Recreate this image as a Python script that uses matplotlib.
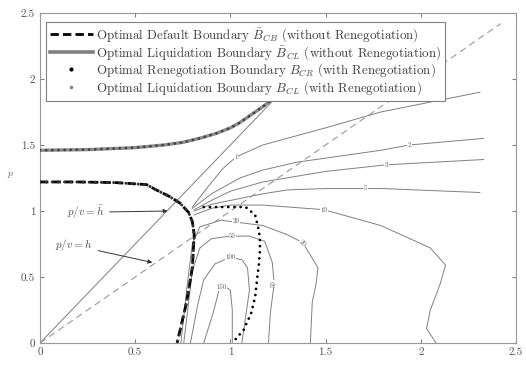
import matplotlib.pyplot as plt
from matplotlib.lines import Line2D

plt.rcParams['font.family'] = 'serif'
plt.rcParams['font.serif'] = ['cmr10', 'DejaVu Serif']
plt.rcParams['mathtext.fontset'] = 'cm'
plt.rcParams['axes.formatter.use_mathtext'] = True

# optimal default boundary (without renegotiation)
def_x = [0.0, 0.2, 0.4, 0.56, 0.61, 0.68, 0.735, 0.78, 0.80, 0.81, 0.80, 0.77, 0.72]
def_y = [1.22, 1.22, 1.215, 1.20, 1.16, 1.11, 1.06, 0.99, 0.92, 0.82, 0.57, 0.31, 0.0]

# optimal liquidation boundary (without renegotiation)
liq_x = [0.0, 0.25, 0.5, 0.65, 0.75, 0.85, 0.93, 1.0, 1.05, 1.1, 1.17, 1.26, 1.35]
liq_y = [1.46, 1.465, 1.48, 1.50, 1.52, 1.555, 1.59, 1.63, 1.67, 1.72, 1.79, 1.89, 2.0]

# renegotiation boundary (with renegotiation), right branch
reneg_x = [0.86, 0.95, 1.03, 1.08, 1.13, 1.145, 1.155, 1.155, 1.15, 1.14, 1.13, 1.11, 1.07, 1.01]
reneg_y = [1.03, 1.03, 1.03, 1.03, 0.97, 0.88, 0.80, 0.70, 0.60, 0.48, 0.35, 0.23, 0.10, 0.0]

# straight lines p/v = h_bar and p/v = h
hbar_x = [0.0, 1.4]
hbar_y = [0.0, 2.1]
hund_x = [0.0, 2.42]
hund_y = [0.0, 2.42]

# contour lines
c1_x = [0.86, 0.91, 0.94, 0.97, 1.0, 1.01, 1.01]
c1_y = [0.0, 0.23, 0.40, 0.43, 0.40, 0.25, 0.0]
c2_x = [0.79, 0.83, 0.86, 0.92, 1.0, 1.06, 1.09, 1.1, 1.08, 1.06]
c2_y = [0.0, 0.3, 0.48, 0.60, 0.65, 0.63, 0.57, 0.4, 0.2, 0.0]
c3_x = [0.755, 0.78, 0.80, 0.84, 0.9, 1.0, 1.1, 1.18, 1.22, 1.23, 1.21, 1.20]
c3_y = [0.0, 0.3, 0.55, 0.72, 0.79, 0.81, 0.81, 0.77, 0.61, 0.45, 0.23, 0.0]
c4_x = [0.74, 0.77, 0.80, 0.84, 0.95, 1.17, 1.3, 1.38, 1.46, 1.45, 1.43, 1.42]
c4_y = [0.0, 0.4, 0.75, 0.88, 0.93, 0.89, 0.82, 0.76, 0.57, 0.45, 0.31, 0.0]
c5_x = [0.81, 0.9, 1.0, 1.17, 1.49, 1.79, 2.05, 2.13, 2.10, 2.05, 2.03, 2.08]
c5_y = [0.97, 1.02, 1.045, 1.045, 1.01, 0.89, 0.72, 0.59, 0.44, 0.25, 0.11, 0.0]
c6_x = [0.81, 0.9, 1.0, 1.17, 1.3, 1.5, 1.8, 2.31]
c6_y = [1.0, 1.05, 1.08, 1.13, 1.16, 1.17, 1.17, 1.14]
c7_x = [0.81, 0.9, 1.0, 1.17, 1.5, 1.82, 2.33]
c7_y = [1.01, 1.08, 1.15, 1.22, 1.30, 1.35, 1.39]
c8_x = [0.8, 0.9, 1.05, 1.17, 1.35, 1.79, 1.94, 2.33]
c8_y = [1.02, 1.13, 1.25, 1.31, 1.37, 1.46, 1.50, 1.55]
c9_x = [0.8, 0.88, 0.96, 1.03, 1.17, 1.5, 1.79, 2.31]
c9_y = [1.03, 1.18, 1.32, 1.41, 1.50, 1.63, 1.75, 1.90]
contour_levels = ['150', '100', '50', '20', '10', '5', '3', '2', '1']

legend_labels = [
    r'Optimal Default Boundary $\bar{B}_{CB}$ (without Renegotiation)',
    r'Optimal Liquidation Boundary $\bar{B}_{CL}$ (without Renegotiation)',
    r'Optimal Renegotiation Boundary $B_{CR}$ (with Renegotiation)',
    r'Optimal Liquidation Boundary $B_{CL}$ (with Renegotiation)',
]


def main():
    fig = plt.figure(figsize=(5.26, 3.69), dpi=100)
    ax = fig.add_axes([40/526, 26/369, 476/526, 330/369])

    # contours
    contours = [(c1_x, c1_y), (c2_x, c2_y), (c3_x, c3_y), (c4_x, c4_y), (c5_x, c5_y),
                (c6_x, c6_y), (c7_x, c7_y), (c8_x, c8_y), (c9_x, c9_y)]
    for cx, cy in contours:
        ax.plot(cx, cy, color='0.5', lw=0.7, zorder=2)

    # contour labels (level index, position, rotation)
    label_pos = [(0, 0.955, 0.42, 0), (1, 1.0, 0.65, 0), (2, 1.01, 0.81, 0),
                 (2, 1.23, 0.45, 90), (3, 1.03, 0.92, 0), (3, 1.38, 0.76, -45),
                 (4, 1.49, 1.01, 0), (5, 1.71, 1.17, 0), (6, 1.82, 1.35, 0),
                 (7, 1.94, 1.50, 0), (8, 1.03, 1.41, 0)]
    for i, lx, ly, rot in label_pos:
        ax.text(lx, ly, contour_levels[i], fontsize=5, color='0.35', rotation=rot,
                ha='center', va='center', zorder=3,
                bbox=dict(facecolor='white', edgecolor='none', pad=0.3))

    # straight lines
    ax.plot(hbar_x, hbar_y, color='0.55', lw=0.8, zorder=2)
    ax.plot(hund_x, hund_y, color='0.6', lw=0.8, ls=(0, (6, 4)), zorder=2)

    # boundaries
    ax.plot(liq_x, liq_y, color='0.55', lw=2.4, zorder=4)
    ax.plot(liq_x, liq_y, color='0.25', lw=2.0, ls=(0, (0.01, 2.2)),
            dash_capstyle='round', zorder=5)
    ax.plot(def_x, def_y, color='black', lw=2.0, ls=(0, (3, 1.5)), zorder=4)
    ax.plot(def_x, def_y, color='0.2', lw=2.2, ls=(0, (0.01, 2.0)),
            dash_capstyle='round', zorder=5)
    ax.plot(reneg_x, reneg_y, color='black', lw=2.0, ls=(0, (0.01, 2.2)),
            dash_capstyle='round', zorder=5)

    # annotations
    ax.annotate(r'$p/v = \bar{h}$', xy=(0.67, 1.0), xytext=(0.14, 0.99),
                fontsize=8, color='0.3', va='center',
                arrowprops=dict(arrowstyle='-|>', color='0.2', lw=0.7,
                                mutation_scale=6, shrinkA=2, shrinkB=0))
    ax.annotate(r'$p/v = h$', xy=(0.59, 0.61), xytext=(0.08, 0.74),
                fontsize=8, color='0.3', va='center',
                arrowprops=dict(arrowstyle='-|>', color='0.2', lw=0.7,
                                mutation_scale=6, shrinkA=2, shrinkB=0))

    handles = [
        Line2D([], [], color='black', lw=2.0, ls=(0, (3, 1.5))),
        Line2D([], [], color='0.5', lw=2.6),
        Line2D([], [], color='black', ls='none', marker='.', markersize=4),
        Line2D([], [], color='0.5', ls='none', marker='.', markersize=3),
    ]
    leg = ax.legend(handles, legend_labels, loc='upper left',
                    bbox_to_anchor=(6/476, 1 - 9/330), borderaxespad=0,
                    fontsize=9.3, labelspacing=0.0, handlelength=3.3,
                    handletextpad=0.3, fancybox=False, framealpha=1,
                    borderpad=0.3)
    leg.get_frame().set_edgecolor('0.5')
    leg.get_frame().set_linewidth(0.8)
    for t in leg.get_texts():
        t.set_color('0.25')

    ax.set_xlim(0, 2.5)
    ax.set_ylim(0, 2.5)
    ax.set_xticks([0, 0.5, 1, 1.5, 2, 2.5])
    ax.set_yticks([0, 0.5, 1, 1.5, 2, 2.5])
    ax.set_xticklabels(['0', '0.5', '1', '1.5', '2', '2.5'])
    ax.set_yticklabels(['0', '0.5', '1', '1.5', '2', '2.5'])
    ax.tick_params(direction='in', top=True, right=True, length=3,
                   labelsize=8, colors='0.5', labelcolor='0.3')
    for s in ax.spines.values():
        s.set_color('0.6')
        s.set_linewidth(0.8)
    fig.text(11/526, 1 - 175/369, r'$p$', fontsize=7, color='0.4',
             ha='center', va='center')

    fig.savefig('out.png', dpi=100)


if __name__ == "__main__":
    main()
